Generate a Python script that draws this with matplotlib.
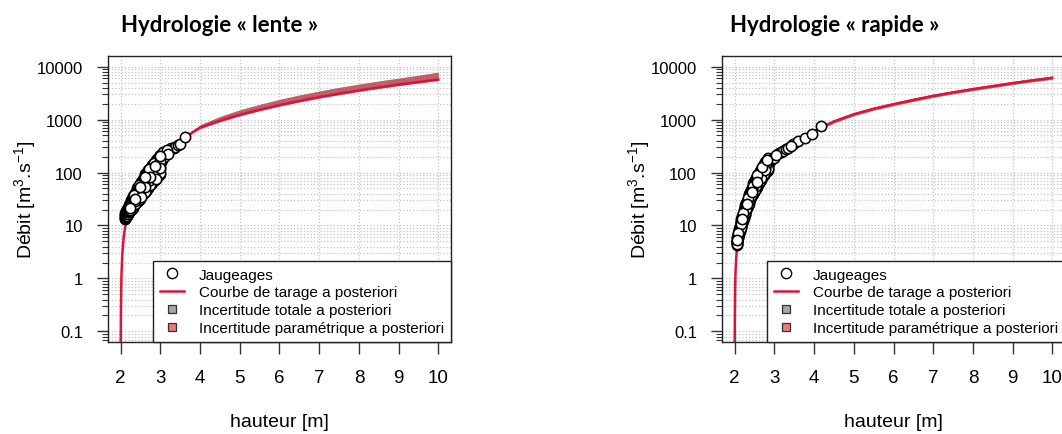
import matplotlib.pyplot as plt
from matplotlib.lines import Line2D
from matplotlib.ticker import NullFormatter

plt.rcParams['font.family'] = ['Liberation Sans', 'DejaVu Sans']
plt.rcParams['mathtext.default'] = 'regular'

# ---- Hydrologie "lente" : jaugeages (dense part, five readings per height) ----
lente_h = [2.12, 2.14, 2.16, 2.18, 2.20, 2.22, 2.24, 2.26, 2.28, 2.30, 2.32, 2.34, 2.36, 2.38, 2.40,
           2.42, 2.44, 2.46, 2.48, 2.50, 2.52, 2.54, 2.56, 2.58, 2.60, 2.62, 2.64, 2.66, 2.68, 2.70,
           2.72, 2.74, 2.76, 2.78, 2.80, 2.82, 2.84, 2.86, 2.88, 2.90, 2.92, 2.94, 2.96, 2.98, 3.00]
lente_q_lo = [13.2, 14.3, 15.4, 16.5, 17.6, 18.7, 20, 19.4, 20.4, 21.6, 23, 24.4, 25.8, 27.2, 28.8,
              27.4, 28.8, 30.6, 32.2, 33.8, 35.6, 37.4, 39.6, 41.8, 43.9, 43.5, 45.6, 47.9, 50, 52.4,
              54.7, 57.1, 59.8, 62.6, 65.3, 68, 70.7, 73.8, 76.8, 80.2, 83.6, 87, 90.8, 94.5, 98.6]
lente_q_a = [14.1, 15.2, 16.5, 17.6, 18.8, 20.0, 21.3, 21.8, 23.0, 24.3, 25.8, 27.5, 29.1, 30.6, 32.4,
             32.3, 34.0, 36.1, 38.0, 40.0, 42.1, 44.2, 46.8, 49.3, 51.9, 54.4, 57.0, 59.9, 62.5, 65.5,
             68.4, 71.4, 74.8, 78.2, 81.6, 85.0, 88.4, 92.2, 96.1, 100, 105, 109, 113, 118, 123]
lente_q_mid = [15, 16.2, 17.5, 18.7, 20, 21.3, 22.7, 24.2, 25.5, 27, 28.7, 30.5, 32.3, 34, 36,
               38, 40, 42.5, 44.7, 47, 49.5, 52, 55, 58, 61, 64, 67, 70.5, 73.5, 77,
               80.5, 84, 88, 92, 96, 100, 104, 108.5, 113, 118, 123, 128, 133.5, 139, 145]
lente_q_b = [16.1, 17.3, 18.7, 20.0, 21.4, 22.8, 24.3, 27.1, 28.6, 30.2, 32.1, 34.2, 36.2, 38.1, 40.3,
             45.6, 48.0, 51.0, 53.6, 56.4, 59.4, 62.4, 66.0, 69.6, 73.2, 76.8, 80.4, 84.6, 88.2, 92.4,
             96.6, 101, 106, 110, 115, 120, 125, 130, 136, 142, 148, 154, 160, 167, 174]
lente_q_hi = [17.3, 18.6, 20.1, 21.5, 23, 24.5, 26.1, 30.3, 31.9, 33.8, 35.9, 38.1, 40.4, 42.5, 45,
              51.3, 54, 57.4, 60.3, 63.5, 66.8, 70.2, 74.3, 78.3, 82.4, 92.8, 97.2, 102, 107, 112,
              117, 122, 128, 133, 139, 145, 151, 157, 164, 171, 178, 186, 194, 202, 210]
lente_top_h = [3.04, 3.07, 3.10, 3.17, 3.20, 3.27, 3.33, 3.38, 3.44, 3.50, 3.63]
lente_top_q = [172, 249, 195, 263, 225, 288, 290, 308, 330, 352, 469]

lente_curve_h = [2.000, 2.005, 2.01, 2.02, 2.04, 2.07, 2.10, 2.12, 2.15, 2.20, 2.30, 2.40, 2.50,
                 2.60, 2.70, 2.80, 2.90, 3.00, 3.10, 3.20, 3.30, 3.40, 3.50, 3.60, 3.70, 3.80,
                 4.00, 4.50, 5.00, 5.50, 6.00, 6.50, 7.00, 7.50, 8.00, 8.50, 9.00, 9.50, 10.00]
lente_curve_q = [0.05, 0.2, 0.5, 1.2, 2.8, 5.5, 8.2, 10, 12.5, 17, 26, 36, 48,
                 62, 78, 96, 118, 145, 172, 205, 240, 285, 350, 420, 495, 570,
                 705, 950, 1230, 1530, 1875, 2245, 2650, 3085, 3550, 4040, 4570, 5120, 5700]

lente_band_h = [3.65, 3.80, 4.00, 4.50, 5.00, 5.50, 6.00, 6.50, 7.00, 7.50, 8.00, 8.50, 9.00, 9.50, 10.00]
lente_band_lo = [440, 548, 677, 912, 1180, 1470, 1800, 2155, 2545, 2960, 3410, 3880, 4390, 4915, 5470]
lente_band_hi = [460, 604, 797, 1140, 1525, 1928, 2400, 2896, 3445, 4041, 4650, 5333, 6032, 6861, 7809]

# ---- Hydrologie "rapide" ----
rapide_h = [2.05, 2.07, 2.09, 2.11, 2.13, 2.15, 2.17, 2.19, 2.21, 2.23, 2.25, 2.27, 2.29, 2.31,
            2.33, 2.35, 2.37, 2.39, 2.41, 2.43, 2.45, 2.47, 2.49, 2.51, 2.53, 2.55, 2.57, 2.59,
            2.61, 2.63, 2.65, 2.67, 2.69, 2.71, 2.73, 2.75, 2.77, 2.79, 2.81, 2.83, 2.85]
rapide_q_lo = [4.2, 4.9, 5.8, 6.8, 7.8, 9.0, 9.7, 11.1, 12.4, 13.9, 15.5, 17.3, 19.2, 21.3,
               23.5, 25.9, 28.5, 31.2, 34, 37, 40, 40.4, 43.2, 46.4, 49.6, 52.8, 56.4, 60,
               64, 68, 72, 76.4, 80.8, 85.2, 89.6, 94.4, 99.2, 104, 109, 114, 118]
rapide_q_a = [4.4, 5.1, 6.1, 7.1, 8.3, 9.5, 10.5, 12.0, 13.4, 15.0, 16.7, 18.7, 20.8, 23.0,
              25.5, 28.1, 30.8, 33.8, 36.8, 40.0, 43.2, 44.9, 48.1, 51.6, 55.2, 58.7, 62.7, 66.8,
              71.2, 75.7, 80.1, 85.0, 89.9, 94.8, 99.7, 105, 110, 116, 121, 126, 132]
rapide_q_mid = [4.6, 5.4, 6.4, 7.5, 8.7, 10, 11.4, 13, 14.6, 16.3, 18.2, 20.3, 22.6, 25,
                27.7, 30.5, 33.5, 36.7, 40, 43.5, 47, 50.5, 54, 58, 62, 66, 70.5, 75,
                80, 85, 90, 95.5, 101, 106.5, 112, 118, 124, 130, 136, 142, 148]
rapide_q_b = [4.9, 5.7, 6.8, 8.0, 9.2, 10.6, 12.4, 14.2, 15.9, 17.8, 19.8, 22.1, 24.6, 27.3,
              30.2, 33.2, 36.5, 40.0, 43.6, 47.4, 51.2, 56.6, 60.5, 65.0, 69.4, 73.9, 79.0, 84.0,
              89.6, 95.2, 101, 107, 113, 119, 125, 132, 139, 146, 152, 159, 166]
rapide_q_hi = [5.2, 6.0, 7.2, 8.4, 9.7, 11.2, 13.5, 15.3, 17.2, 19.2, 21.5, 24, 26.7, 29.5,
               32.7, 36, 39.5, 43.3, 47.2, 51.3, 55.5, 63.1, 67.5, 72.5, 77.5, 82.5, 88.1, 93.8,
               100, 106, 112, 119, 126, 133, 140, 148, 155, 162, 170, 178, 185]
rapide_top_h = [2.90, 2.94, 2.99, 3.05, 3.11, 3.17, 3.22, 3.28, 3.34, 3.41, 3.47, 3.59, 3.76, 3.95, 4.18]
rapide_top_q = [168, 180, 192, 210, 230, 245, 258, 275, 295, 318, 340, 396, 457, 525, 760]

rapide_curve_h = [2.000, 2.005, 2.01, 2.02, 2.04, 2.06, 2.08, 2.10, 2.15, 2.20, 2.30, 2.40, 2.50,
                  2.60, 2.70, 2.80, 2.90, 3.00, 3.20, 3.40, 3.60, 3.80, 4.00, 4.20, 4.50, 5.00,
                  5.50, 6.00, 6.50, 7.00, 7.50, 8.00, 8.50, 9.00, 9.50, 10.00]
rapide_curve_q = [0.05, 0.25, 0.6, 1.3, 2.6, 3.8, 5.0, 6.0, 9.5, 13.5, 23, 38, 56,
                  78, 103, 133, 165, 195, 258, 320, 400, 490, 600, 720, 920, 1260,
                  1600, 1950, 2350, 2800, 3260, 3750, 4280, 4880, 5500, 6150]

rapide_band_h = [4.20, 4.50, 5.00, 5.50, 6.00, 6.50, 7.00, 7.50, 8.00, 8.50, 9.00, 9.50, 10.00]
rapide_band_lo = [677, 865, 1184, 1504, 1833, 2209, 2632, 3064, 3525, 4023, 4587, 5170, 5781]
rapide_band_hi = [770, 984, 1348, 1712, 2087, 2515, 2996, 3488, 4013, 4580, 5222, 5885, 6581]

y_ticks = [0.1, 1, 10, 100, 1000, 10000]
y_labels = ['0.1', '1', '10', '100', '1000', '10000']
x_ticks = [2, 3, 4, 5, 6, 7, 8, 9, 10]
labels = ['Jaugeages', 'Courbe de tarage a posteriori',
          'Incertitude totale a posteriori', 'Incertitude paramétrique a posteriori']

RED = '#DC143C'
GRAY = '#9E9E9E'
PARAM = '#C8505A'

W, H = 1062, 435
fig = plt.figure(figsize=(W / 100, H / 100), dpi=100)


def draw_panel(left_px, title_px, title, pts_h, pts_q, cur_h, cur_q, band_h, band_lo, band_hi):
    ax = fig.add_axes([left_px / W, 92 / H, 343 / W, 286 / H])
    ax.set_yscale('log')
    ax.set_xlim(1.68, 10.32)
    ax.set_ylim(10 ** -1.2, 10 ** 4.2)

    ax.fill_between(band_h, band_lo, band_hi, color=GRAY, lw=0, zorder=2)
    ax.fill_between(band_h, band_lo, band_hi, color=PARAM, alpha=0.8, lw=0, zorder=2)
    ax.plot(cur_h, cur_q, color=RED, lw=1.8, zorder=3)

    # mixed drawing order, like gaugings listed by date
    n = len(pts_h)
    order = sorted(range(n), key=lambda i: (i * 37) % n)
    ax.plot([pts_h[i] for i in order], [pts_q[i] for i in order], ls='none', marker='o',
            mfc='white', mec='black', ms=7.4, mew=1.15, zorder=4)

    ax.set_xticks(x_ticks)
    ax.set_yticks(y_ticks, labels=y_labels)
    minor = [m * 10.0 ** k for k in range(-2, 5) for m in range(2, 10)]
    minor = [v for v in minor if 10 ** -1.2 < v < 10 ** 4.2]
    ax.set_yticks(minor, minor=True)
    ax.yaxis.set_minor_formatter(NullFormatter())

    ax.grid(True, axis='y', which='both', ls=':', color='#C4C4C4', lw=0.9)
    ax.grid(True, axis='x', which='major', ls=':', color='#C4C4C4', lw=0.9)
    ax.set_axisbelow(True)

    ax.tick_params(axis='x', length=8.5, width=1, pad=11, labelsize=13.5, color='#333333')
    ax.tick_params(axis='y', which='major', length=8, width=1, pad=10, labelsize=12, color='#333333')
    ax.tick_params(axis='y', which='minor', length=4, width=0.8, color='#333333')
    for s in ax.spines.values():
        s.set_color('#222222')
        s.set_linewidth(1)

    ax.set_xlabel('hauteur [m]', fontsize=14, va='center')
    ax.xaxis.set_label_coords(0.5, -80 / 286)
    ax.set_ylabel(r'Débit [m$^3$.s$^{-1}$]', fontsize=14, va='center')
    ax.yaxis.set_label_coords(-83 / 343, 0.5)

    handles = [
        Line2D([], [], ls='none', marker='o', mfc='white', mec='black', ms=7.4, mew=1.0),
        Line2D([], [], color=RED, lw=1.8),
        Line2D([], [], ls='none', marker='s', mfc='#A6A6A6', mec='#333333', ms=6, mew=0.9),
        Line2D([], [], ls='none', marker='s', mfc='#F07878', mec='#333333', ms=6, mew=0.9),
    ]
    leg = ax.legend(handles, labels, loc='lower right', bbox_to_anchor=(1, 0),
                    borderaxespad=0, fancybox=False, edgecolor='#222222', framealpha=1,
                    fontsize=11, handlelength=1.6, handletextpad=0.95,
                    labelspacing=0.25, borderpad=0.45)
    leg.get_frame().set_linewidth(1.0)
    leg.set_zorder(5)

    fig.text(title_px / W, 1 - 25 / H, title, fontsize=16, fontweight='bold',
             family=['Lato', 'DejaVu Sans'], va='center', ha='left')
    return ax


draw_panel(108, 121, 'Hydrologie « lente »',
           lente_h * 5 + lente_top_h,
           lente_q_lo + lente_q_a + lente_q_mid + lente_q_b + lente_q_hi + lente_top_q,
           lente_curve_h, lente_curve_q, lente_band_h, lente_band_lo, lente_band_hi)
draw_panel(722, 730, 'Hydrologie « rapide »',
           rapide_h * 5 + rapide_top_h,
           rapide_q_lo + rapide_q_a + rapide_q_mid + rapide_q_b + rapide_q_hi + rapide_top_q,
           rapide_curve_h, rapide_curve_q, rapide_band_h, rapide_band_lo, rapide_band_hi)

fig.savefig('out.png', dpi=100)
